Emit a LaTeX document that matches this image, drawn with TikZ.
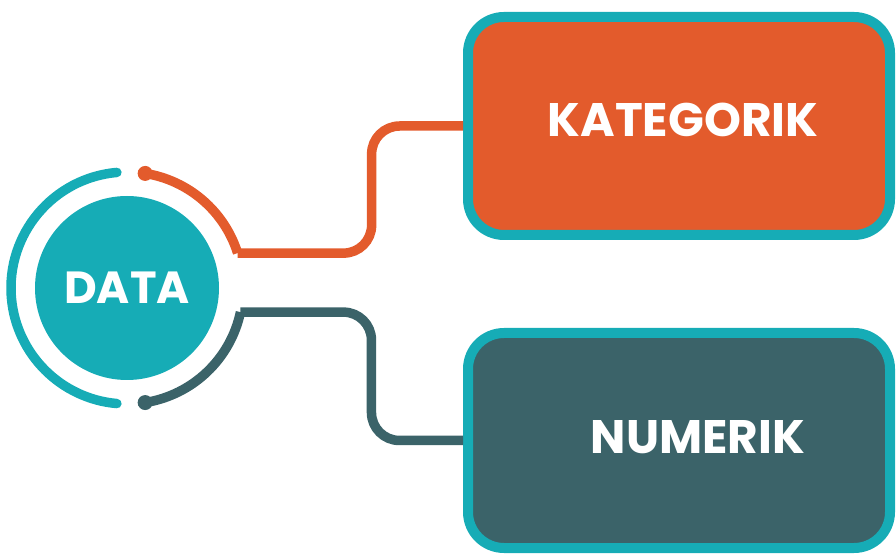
\documentclass[tikz,border=0pt]{standalone}
\usepackage{fontspec}
\newfontfamily\labelfont{Poppins}
\usepackage{tikz}
\definecolor{datacyan}{RGB}{22,172,182}
\definecolor{katorange}{RGB}{227,91,44}
\definecolor{numslate}{RGB}{59,99,105}
\tikzset{
  hub/.style={circle,fill=datacyan,minimum size=184pt,inner sep=0pt,text=white,
    font=\labelfont\bfseries\fontsize{45}{48}\selectfont},
  catbox/.style={draw=datacyan,line width=10pt,rounded corners=36pt,
    minimum width=422pt,minimum height=#1,inner sep=0pt},
  boxlabel/.style={text=white,inner sep=0pt,font=\labelfont\bfseries\fontsize{47}{50}\selectfont},
  link/.style={line width=9.5pt,rounded corners=28pt},
  tip/.style={circle,fill=#1,inner sep=0pt,minimum size=15pt}
}

\begin{document}
\begin{tikzpicture}[x=1pt,y=1pt]
    \useasboundingbox (0,0) rectangle (896,554);
    \node [hub] (data) at (127,266) {DATA};

    \node [catbox=218pt, fill=katorange] (kat) at (679,428) {};
    \node [catbox=215pt, fill=numslate] (num) at (679,113.5) {};
    \node [boxlabel] (kat-text) at ([shift={(4,6)}]kat.center) {KATEGORIK};
    \node [boxlabel] (num-text) at ([shift={(19,3)}]num.center) {NUMERIK};

    % ring round the hub
    \draw [datacyan, line width=9.5pt, line cap=round] ([shift={(95:116)}]data.center)
      arc [start angle=95, end angle=265, radius=116];
    \draw [katorange, line width=9.5pt] ([shift={(81:116)}]data.center)
      arc [start angle=81, end angle=17.5, radius=116] coordinate (k0);
    \draw [numslate, line width=9.5pt] ([shift={(-81:116)}]data.center)
      arc [start angle=-81, end angle=-12, radius=116] coordinate (n0);
    \node [tip=katorange] (k-tip) at ([shift={(81:116)}]data.center) {};
    \node [tip=numslate] (n-tip) at ([shift={(-81:116)}]data.center) {};

    \draw [link, katorange] (k0) -- ++(134,0) |- (kat.west);
    \draw [link, numslate] (n0) -- ++(131,0) |- (num.west);
\end{tikzpicture}
\end{document}
